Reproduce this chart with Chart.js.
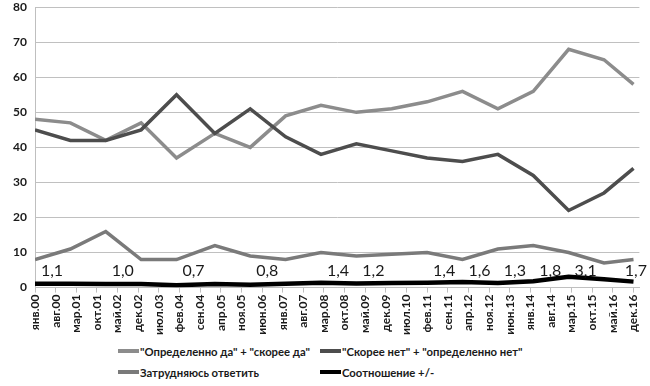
<!DOCTYPE html>
<html>
<head>
<meta charset="utf-8">
<script src="https://cdn.jsdelivr.net/npm/chart.js@4.4.1/dist/chart.umd.min.js"></script>
<style>
  html, body { margin: 0; padding: 0; background: #fff; overflow: hidden; }
  #wrap { position: relative; width: 650px; height: 386px; overflow: hidden; font-family: Lato, "Liberation Sans", sans-serif; }
  #box { position: absolute; left: 0; top: -8px; width: 650px; height: 348px; }
  .item { position: absolute; display: flex; align-items: center; white-space: nowrap;
          font-weight: bold; font-size: 11.3px; color: #1a1a1a; height: 14px; }
  .item i { display: inline-block; width: 21px; height: 4px; margin-right: 1px; }
</style>
</head>
<body>
<div id="wrap">
  <div id="box"><canvas id="mainChart"></canvas></div>
  <div id="legend"></div>
</div>
<script>
// === ДАННЫЕ ===
const tickLabels = ["янв.00","авг.00","мар.01","окт.01","май.02","дек.02","июл.03","фев.04","сен.04","апр.05",
                    "ноя.05","июн.06","янв.07","авг.07","мар.08","окт.08","май.09","дек.09","июл.10","фев.11",
                    "сен.11","апр.12","ноя.12","июн.13","янв.14","авг.14","мар.15","окт.15","май.16","дек.16"];
const tickMonths = [0,7,14,21,28,35,42,49,56,63,70,77,84,91,98,105,112,119,126,133,
                    140,147,154,161,168,175,182,189,196,203];

// месяцы опросов (от янв.2000)
const surveyMonths = [0,12,24,36,48,61,73,85,97,109,121,133,145,157,169,181,193,203];
const yesValues   = [48,47,42,47,37,44,40,49,52,50,51,53,56,51,56,68,65,58];
const noValues    = [45,42,42,45,55,44,51,43,38,41,39,37,36,38,32,22,27,34];
const hardValues  = [8,11,16,8,8,12,9,8,10,9,9.5,10,8,11,12,10,7,8];
const ratioValues = [1.1,1.1,1.0,1.0,0.7,1.0,0.8,1.1,1.4,1.2,1.3,1.4,1.6,1.3,1.8,3.1,2.4,1.7];
const ratioLabels = ["1,1",null,"1,0",null,"0,7",null,"0,8",null,"1,4","1,2",null,"1,4","1,6","1,3","1,8","3,1",null,"1,7"];

const seriesNames = ['"Определенно да" + "скорее да"', '"Скорее нет" + "определенно нет"',
                     'Затрудняюсь ответить', 'Соотношение +/-'];
const seriesColors = ['#8c8c8c', '#4d4d4d', '#7a7a7a', '#000000'];

const FONT = "Lato, 'Liberation Sans', sans-serif";

function toPoints(values) {
    return values.map((v, i) => ({ x: surveyMonths[i], y: v }));
}

// подписи соотношения
const ratioLabelPlugin = {
    id: 'ratioLabels',
    afterDatasetsDraw(chart) {
        const meta = chart.getDatasetMeta(3);
        const yScale = chart.scales.y;
        const ctx = chart.ctx;
        ctx.save();
        ctx.font = "16px " + FONT;
        ctx.fillStyle = '#1a1a1a';
        ctx.textBaseline = 'middle';
        meta.data.forEach((pt, i) => {
            const txt = ratioLabels[i];
            if (!txt) return;
            const w = ctx.measureText(txt).width;
            let x = pt.x + 17 - w / 2;
            if (x + w > chart.width - 3) x = chart.width - 3 - w;
            ctx.fillText(txt, x, yScale.getPixelForValue(4.8));
        });
        ctx.restore();
    }
};

const datasets = [yesValues, noValues, hardValues, ratioValues].map((vals, i) => ({
    label: seriesNames[i],
    data: toPoints(vals),
    borderColor: seriesColors[i],
    backgroundColor: seriesColors[i],
    borderWidth: i === 3 ? 4.5 : 3.5,
    pointRadius: 0,
    tension: 0,
    order: 3 - i
}));

new Chart(document.getElementById('mainChart'), {
    type: 'line',
    data: { datasets },
    options: {
        responsive: true,
        maintainAspectRatio: false,
        animation: false,
        layout: { padding: { top: 0, right: 10, bottom: 3, left: 0 } },
        plugins: { legend: { display: false }, tooltip: { enabled: false } },
        scales: {
            x: {
                type: 'linear', min: 0, max: 205,
                afterBuildTicks: (s) => { s.ticks = tickMonths.map(v => ({ value: v })); },
                ticks: {
                    autoSkip: false, minRotation: 90, maxRotation: 90, padding: 2,
                    callback: (v, i) => tickLabels[i],
                    font: { family: FONT, weight: 'bold', size: 12 }, color: '#1a1a1a'
                },
                grid: { drawOnChartArea: false, tickLength: 5, color: '#bfbfbf' },
                border: { color: '#bfbfbf' }
            },
            y: {
                min: 0, max: 80,
                afterFit: (s) => { s.width = 35; },
                ticks: { stepSize: 10, padding: 8, font: { family: FONT, weight: 'bold', size: 12 }, color: '#1a1a1a' },
                grid: { color: '#c0c0c0', drawTicks: false },
                border: { color: '#bfbfbf' }
            }
        }
    },
    plugins: [ratioLabelPlugin]
});

// === ЛЕГЕНДА ===
const legendPos = [[118, 344], [320, 344], [118, 365], [320, 365]];
const legendEl = document.getElementById('legend');
seriesNames.forEach((name, i) => {
    const d = document.createElement('div');
    d.className = 'item';
    d.style.left = legendPos[i][0] + 'px';
    d.style.top = legendPos[i][1] + 'px';
    d.innerHTML = `<i style="background:${seriesColors[i]}"></i>${name}`;
    legendEl.appendChild(d);
});
</script>
</body>
</html>
